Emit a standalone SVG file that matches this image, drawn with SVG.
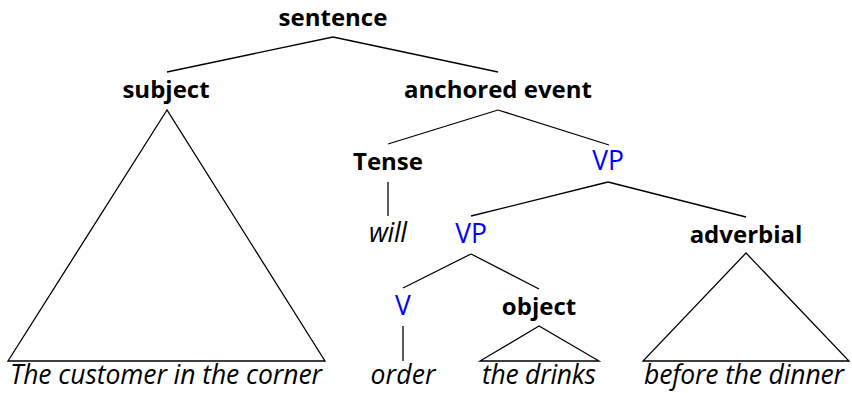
<svg xmlns="http://www.w3.org/2000/svg" width="852" height="393" viewBox="0 0 852 393">
<style>
text{font-family:"Open Sans","Liberation Sans",sans-serif;font-size:26.5px;text-anchor:middle;fill:#000}
.b{font-weight:bold;font-size:24px}
.v{fill:#0000ff}
.i{font-style:italic}
.c line,.c polygon{stroke:#000;stroke-width:1.3;fill:none}
</style>
<rect width="852" height="393" fill="#fff"/>
<g class="c" id="connectors">
<line x1="333" y1="37" x2="167" y2="72"/>
<line x1="333" y1="37" x2="498" y2="72"/>
<polygon points="167,110 8,361 325,361"/>
<line x1="498" y1="110" x2="388" y2="144"/>
<line x1="498" y1="110" x2="609" y2="145"/>
<line x1="388" y1="182" x2="388" y2="216"/>
<line x1="608" y1="182" x2="471" y2="216"/>
<line x1="608" y1="182" x2="746" y2="217"/>
<line x1="471" y1="254" x2="403" y2="288"/>
<line x1="471" y1="254" x2="539" y2="289"/>
<line x1="403" y1="326" x2="403" y2="361"/>
<polygon points="539,326 480,361 599,361"/>
<polygon points="746,253 643,361 849,361"/>
</g>
<g id="sentence"><text class="b" x="333" y="26">sentence</text></g>
<g id="subject"><text class="b" x="166" y="98">subject</text></g>
<g id="anchored-event"><text class="b" x="498" y="98">anchored event</text></g>
<g id="tense"><text class="b" x="388" y="170">Tense</text></g>
<g id="vp1"><text class="v" x="608" y="170">VP</text></g>
<g id="will"><text class="i" x="388" y="242" textLength="38">will</text></g>
<g id="vp2"><text class="v" x="471" y="243">VP</text></g>
<g id="adverbial"><text class="b" x="746" y="243">adverbial</text></g>
<g id="v"><text class="v" x="403" y="315">V</text></g>
<g id="object"><text class="b" x="539" y="315">object</text></g>
<g id="subject-text"><text class="i" x="166" y="384" textLength="312">The customer in the corner</text></g>
<g id="order"><text class="i" x="403" y="384" textLength="65">order</text></g>
<g id="object-text"><text class="i" x="539" y="384" textLength="114">the drinks</text></g>
<g id="adverbial-text"><text class="i" x="744" y="384" textLength="200">before the dinner</text></g>
</svg>
